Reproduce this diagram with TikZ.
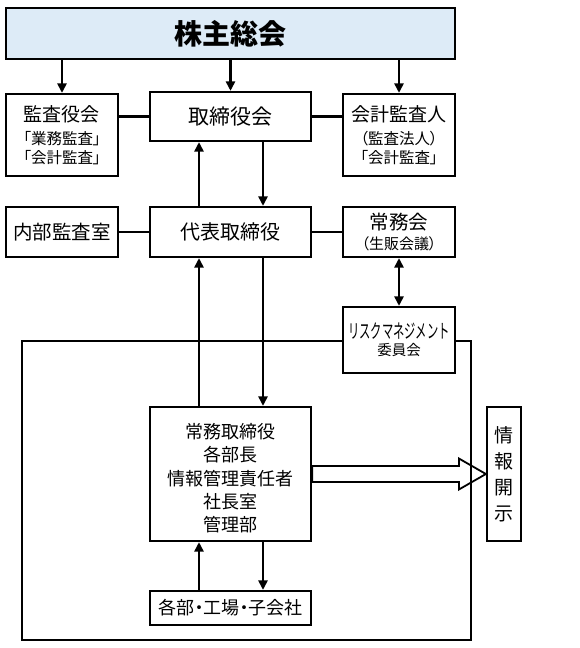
\documentclass[tikz,border=0pt]{standalone}
\usepackage{fontspec}
\setmainfont{Noto Sans CJK JP}
\newfontfamily\jpp[RawFeature=+palt]{Noto Sans CJK JP}
\usetikzlibrary{arrows.meta,backgrounds,calc}
\definecolor{topblue}{RGB}{221,235,247}
\newcommand{\fs}[2]{\fontsize{#1}{#2}\selectfont}
\tikzset{
  box/.style={draw, line width=2.2pt, fill=white, inner sep=0pt, align=center},
  conn/.style={line width=2.2pt},
  arr/.style={line width=2.5pt, -{Triangle[length=9.5pt,width=9pt]}},
  darr/.style={line width=2.5pt, {Triangle[length=9.5pt,width=9pt]}-{Triangle[length=9.5pt,width=9pt]}}
}
\begin{document}
\begin{tikzpicture}[x=1pt,y=-1pt]
\useasboundingbox (0,0) rectangle (580,648);
% nodes
\node[box, fill=topblue, minimum width=449pt, minimum height=51pt, font=\fs{28}{30}\bfseries] (top) at (230.5,33.5) {株主総会};
\node[box, minimum width=112pt, minimum height=82pt, font=\fs{19}{19}] (kansa) at (62,135)
  {監査役会\\[4pt]{\jpp\fs{15.5}{19}「業務監査」}\\{\jpp\fs{15.5}{19}「会計監査」}};
\node[box, minimum width=161pt, minimum height=49pt, font=\fs{21}{24}] (board) at (230.5,116.5) {取締役会};
\node[box, minimum width=112pt, minimum height=82pt, font=\fs{19}{19}] (audit) at (399,135)
  {会計監査人\\[4pt]{\jpp\fs{15.5}{19}（監査法人）}\\{\jpp\fs{15.5}{19}「会計監査」}};
\node[box, minimum width=112pt, minimum height=50pt, font=\fs{19.5}{22}] (naibu) at (62,232) {内部監査室};
\node[box, minimum width=161pt, minimum height=50pt, font=\fs{20}{22}] (ceo) at (230.5,232) {代表取締役};
\node[box, minimum width=112pt, minimum height=50pt, font=\fs{19.5}{20}] (jomu) at (399,232)
  {常務会\\{\jpp\fs{15}{17}（生販会議）}};
\node[box, minimum width=112pt, minimum height=66pt, font=\fs{19.5}{17}] (risk) at (399,340)
  {\scalebox{0.58}[1]{リスクマネジメント}\\{\fs{14.5}{17}委員会}};
\node[box, minimum width=161pt, minimum height=134pt, font=\fs{18}{23.3}] (gm) at (230.5,474)
  {\rule{0pt}{24pt}常務取締役\\各部長\\情報管理責任者\\社長室\\管理部};
\node[box, minimum width=161pt, minimum height=34pt, font=\jpp\fs{18}{20}] (dept) at (230.5,608) {各部・工場・子会社};
\node[box, minimum width=34pt, minimum height=134pt, font=\fs{19}{26}] (info) at (504,474)
  {情\\報\\開\\示};
% background: frame and hollow arrow
\begin{pgfonlayer}{background}
\draw[line width=1.8pt, fill=white, line join=miter]
  ([yshift=8pt]gm.east) -- ([xshift=-27pt,yshift=8pt]info.west)
  -- ([xshift=-27pt,yshift=15.5pt]info.west) -- (info.west)
  -- ([xshift=-27pt,yshift=-15.5pt]info.west) -- ([xshift=-27pt,yshift=-8pt]info.west)
  -- ([yshift=-8pt]gm.east) -- cycle;
\draw[line width=2.2pt] (22,341) rectangle (471,640);
\end{pgfonlayer}
% connectors
\draw[arr] (kansa.north |- top.south) -- (kansa.north);
\draw[arr] (board.north |- top.south) -- (board.north);
\draw[arr] (audit.north |- top.south) -- (audit.north);
\draw[conn] (board.west) -- (board.west -| kansa.east);
\draw[conn] (board.east) -- (board.east -| audit.west);
\draw[conn] (naibu) -- (ceo);
\draw[conn] (ceo) -- (jomu);
\draw[arr] ([xshift=-31.5pt]ceo.north) -- ([xshift=-31.5pt]board.south);
\draw[arr] ([xshift=32.5pt]board.south) -- ([xshift=32.5pt]ceo.north);
\draw[darr] (jomu.south) -- (risk.north);
\draw[arr] ([xshift=-31.5pt]gm.north) -- ([xshift=-31.5pt]ceo.south);
\draw[arr] ([xshift=32.5pt]ceo.south) -- ([xshift=32.5pt]gm.north);
\draw[arr] ([xshift=-31.5pt]dept.north) -- ([xshift=-31.5pt]gm.south);
\draw[arr] ([xshift=32.5pt]gm.south) -- ([xshift=32.5pt]dept.north);
\end{tikzpicture}
\end{document}
